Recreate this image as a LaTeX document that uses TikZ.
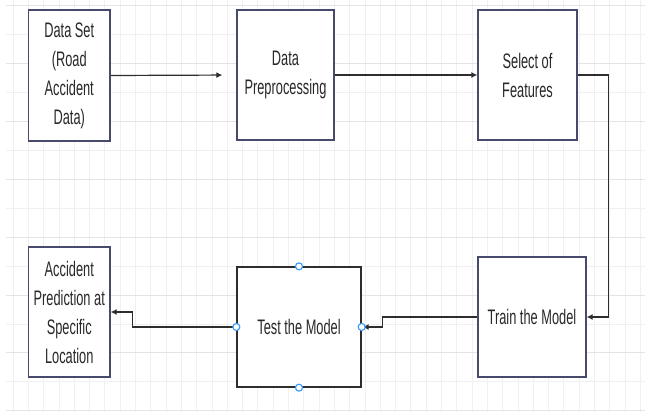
\documentclass[tikz,border=0pt]{standalone}
\usepackage{fontspec}
\usetikzlibrary{arrows.meta}
\newfontfamily\boxfont[FakeStretch=0.61]{Liberation Sans}
\definecolor{boxline}{RGB}{72,74,108}
\definecolor{txt}{RGB}{40,40,40}
\definecolor{wire}{RGB}{45,45,45}
\definecolor{handle}{RGB}{51,153,255}
\definecolor{gridmajor}{RGB}{228,228,228}
\definecolor{gridminor}{RGB}{240,240,240}
\tikzset{
  stage/.style={draw=boxline, line width=1.3pt, fill=white, inner sep=0pt,
    align=center, text=txt, font=\boxfont\fontsize{21}{29}\selectfont},
  flow/.style={draw=wire, line width=1.2pt, -{Latex[length=6pt,width=6pt]}},
  grip/.style={circle, draw=handle, fill=white, line width=1.1pt, inner sep=0pt, minimum size=7pt}
}
\begin{document}
\begin{tikzpicture}[x=1pt,y=-1pt]
\useasboundingbox (0,0) rectangle (645,412);
\fill[white] (0,0) rectangle (645,412);
% background grid
\foreach \i in {0,...,41}{
  \draw[gridminor, line width=0.8pt] ({13+15.3*\i},0) -- ({13+15.3*\i},412);
}
\foreach \k in {0,...,14}{
  \pgfmathtruncatemacro{\odd}{mod(\k,2)}
  \ifnum\odd=0
    \draw[gridmajor, line width=1pt] (6,{6+28.9*\k}) -- (645,{6+28.9*\k});
  \else
    \draw[gridminor, line width=0.8pt] (6,{6+28.9*\k}) -- (645,{6+28.9*\k});
  \fi
}
% process stages
\node[stage, minimum width=81.5pt, minimum height=131pt] (ds) at (69.25,75.5) {Data Set\\(Road\\Accident\\Data)};
\node[stage, minimum width=97pt, minimum height=130pt] (pre) at (285.5,75) {Data\\Preprocessing};
\node[stage, minimum width=99pt, minimum height=130pt] (sel) at (527.5,75) {Select of\\Features};
\node[stage, minimum width=108pt, minimum height=120pt] (train) at (532,317) {Train the Model};
\node[stage, draw=wire, minimum width=124pt, minimum height=120pt] (test) at (299,327) {Test the Model};
\node[stage, minimum width=81.5pt, minimum height=130pt] (acc) at (69.25,312) {Accident\\Prediction at\\Specific\\Location};
% connectors
\draw[flow, shorten >=14pt] (ds.east) -- (pre.west);
\draw[flow] (pre.east) -- (sel.west);
\draw[flow] (sel.east) -- ++(31,0) |- (train.east);
\draw[flow, shorten >=1pt] (train.west) -- ++(-95,0) |- (test.east);
\draw[flow] (test.west) -- ++(-104,0) |- (acc.east);
% selection handles
\foreach \a in {north,south,west,east}{
  \node[grip] (h\a) at (test.\a) {};
}
\end{tikzpicture}
\end{document}
